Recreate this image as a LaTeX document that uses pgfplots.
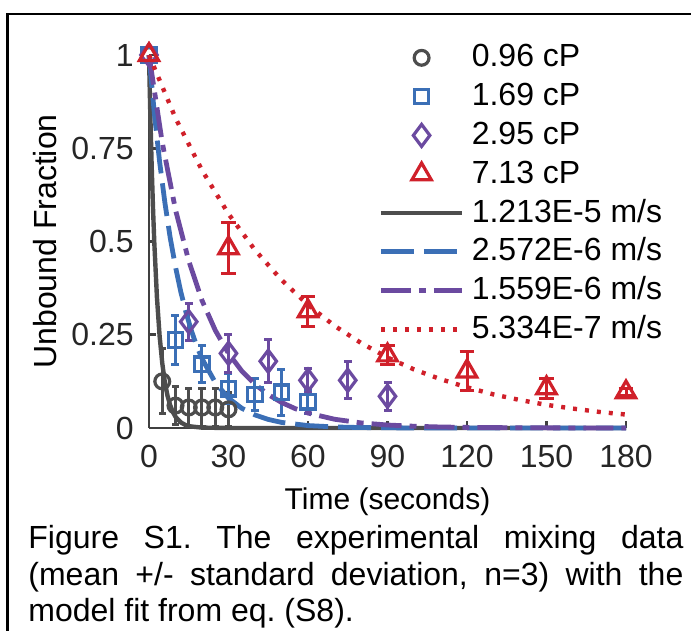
\documentclass[border=0pt]{standalone}
\usepackage{fontspec}
\setmainfont{Liberation Sans}
\usepackage{xcolor}
\usepackage{pgfplots}
\pgfplotsset{compat=1.18}
\definecolor{sgray}{HTML}{4D4D4D}
\definecolor{sblue}{HTML}{3B6FB6}
\definecolor{spurple}{HTML}{6B4AA0}
\definecolor{sred}{HTML}{D0202A}
\definecolor{axgray}{HTML}{404040}
\definecolor{ticktext}{HTML}{262626}

\pgfplotsset{
  datamark/.style={only marks, mark options={solid, line width=1.6pt}},
  errs/.style={error bars/.cd, y dir=both, y explicit,
    error bar style={line width=1.5pt, solid},
    error mark options={rotate=90, mark size=#1, line width=1.5pt}},
}

\begin{document}
\begin{tikzpicture}
\begin{axis}[
  scale only axis,
  width=238.5pt, height=186.5pt,
  xmin=0, xmax=180, ymin=0, ymax=1,
  clip=false,
  axis lines*=left,
  axis line style={line width=1.4pt, draw=axgray},
  tick style={line width=1.4pt, draw=axgray},
  tick align=inside,
  major tick length=3.5pt,
  xtick={0,30,60,90,120,150,180},
  xticklabels={0,30,60,90,120,150,180},
  ytick={0,0.25,0.5,0.75,1},
  yticklabels={0,0.25,0.5,0.75,1},
  ticklabel style={font=\fontsize{16}{19}\selectfont, text=ticktext, inner sep=0pt},
  xticklabel style={anchor=north, yshift=-8.4pt},
  yticklabel style={anchor=east, xshift=-7.5pt},
  xlabel={Time (seconds)},
  ylabel={Unbound Fraction},
  xlabel style={font=\fontsize{15}{18}\selectfont, at={(axis description cs:0.5,-0.2172)}, anchor=base, inner sep=0pt},
  ylabel style={font=\fontsize{16}{19}\selectfont, at={(axis description cs:-0.1929,0.5)}, anchor=base, inner sep=0pt},
  legend cell align=left,
  legend style={draw=none, fill=none, at={(0.4801,1.0418)}, anchor=north west,
    inner sep=0pt, row sep=1.4pt, column sep=2pt, font=\fontsize{16}{19}\selectfont,
    nodes={inner sep=1.5pt, text height=12pt, text depth=3pt}},
  legend image code/.code={\draw[mark repeat=2,mark phase=2,#1] plot coordinates {(0pt,0pt) (20.4pt,0pt) (40.8pt,0pt)};},
]
% measured data, mean +/- sd
\addplot[sgray, datamark, mark=o, mark size=3.7pt, errs=1.8pt] coordinates {
  (5,0.125) +- (0,0.087) (10,0.06) +- (0,0.05) (15,0.055) +- (0,0.05)
  (20,0.055) +- (0,0.05) (25,0.055) +- (0,0.05) (30,0.05) +- (0,0.045)};
\addlegendentry{0.96 cP}
\addplot[sblue, datamark, mark=square, mark size=3.6pt, errs=2pt] coordinates {
  (10,0.236) +- (0,0.065) (20,0.171) +- (0,0.05) (30,0.105) +- (0,0.04)
  (40,0.09) +- (0,0.043) (50,0.096) +- (0,0.062) (60,0.07) +- (0,0.03)};
\addlegendentry{1.69 cP}
\addplot[spurple, datamark, mark=diamond, mark size=5.5pt, errs=2pt] coordinates {
  (15,0.285) +- (0,0.05) (30,0.2) +- (0,0.05) (45,0.179) +- (0,0.057)
  (60,0.128) +- (0,0.032) (75,0.128) +- (0,0.05) (90,0.085) +- (0,0.037)};
\addlegendentry{2.95 cP}
\addplot[sred, datamark, mark=triangle, mark size=5.6pt, errs=3.7pt] coordinates {
  (30,0.482) +- (0,0.068) (60,0.313) +- (0,0.04) (90,0.195) +- (0,0.025)
  (120,0.152) +- (0,0.052) (150,0.107) +- (0,0.027) (180,0.096) +- (0,0.01)};
\addlegendentry{7.13 cP}
% t = 0 points
\addplot[forget plot, sgray, datamark, mark=o, mark size=3.7pt] coordinates {(0,1)};
\addplot[forget plot, sblue, datamark, mark=square, mark size=3.6pt] coordinates {(0,1)};
\addplot[forget plot, spurple, datamark, mark=diamond, mark size=5.5pt] coordinates {(0,1)};
\addplot[forget plot, sred, datamark, mark=triangle, mark size=5.6pt] coordinates {(0,1)};
% model fits
\addplot[sgray, line width=2.2pt, no markers] coordinates {
  (0,1) (0.5,0.839) (1,0.705) (1.5,0.592) (2,0.497) (3,0.350) (4,0.247) (5,0.174)
  (6,0.122) (7,0.086) (8,0.061) (9,0.043) (10,0.030) (12,0.015) (14,0.007)
  (16,0.004) (20,0.001) (30,0) (180,0)};
\addlegendentry{1.213E-5 m/s}
\addplot[sblue, line width=2.4pt, dash pattern=on 16.5pt off 5pt, no markers] coordinates {
  (0,1) (2,0.845) (4,0.714) (6,0.604) (8,0.510) (10,0.432) (12,0.365) (14,0.309)
  (16,0.261) (18,0.220) (20,0.186) (25,0.122) (30,0.080) (35,0.053) (40,0.035)
  (45,0.023) (50,0.015) (60,0.0065) (70,0.0028) (80,0.0012) (100,0) (180,0)};
\addlegendentry{2.572E-6 m/s}
\addplot[spurple, line width=2.4pt, dash pattern=on 15pt off 4pt on 3.5pt off 4pt, no markers] coordinates {
  (0,1) (5,0.765) (10,0.585) (15,0.448) (20,0.342) (25,0.262) (30,0.200) (35,0.153)
  (40,0.117) (45,0.0896) (50,0.0686) (55,0.0524) (60,0.0401) (70,0.0235) (80,0.0137)
  (90,0.0080) (100,0.0047) (110,0.0027) (120,0.0016) (140,0.0006) (160,0.0002) (180,0.0001)};
\addlegendentry{1.559E-6 m/s}
\addplot[sred, line width=2.2pt, dash pattern=on 2pt off 4pt, no markers] coordinates {
  (0,1) (10,0.831) (20,0.691) (30,0.574) (40,0.477) (50,0.397) (60,0.330) (70,0.274)
  (80,0.228) (90,0.189) (100,0.157) (110,0.131) (120,0.109) (130,0.090) (140,0.075)
  (150,0.062) (160,0.052) (170,0.043) (180,0.036)};
\addlegendentry{5.334E-7 m/s}
\end{axis}
\draw[line width=1.1pt, black] (-70.75pt,-120pt) -- (-70.75pt,207pt) -- (290pt,207pt);
\node[anchor=base west, inner sep=0pt, text width=327.5pt, align=justify,
  font=\fontsize{16}{18.25}\selectfont] at (-60.5pt,-60.5pt)
  {\frenchspacing Figure S1. The experimental mixing data\linebreak
   (mean +/- standard deviation, n=3) with the\linebreak
   model fit from eq. (S8).};
\pgfresetboundingbox
\path[use as bounding box] (-74.5pt,-101.5pt) rectangle (271pt,214pt);
\end{tikzpicture}
\end{document}
